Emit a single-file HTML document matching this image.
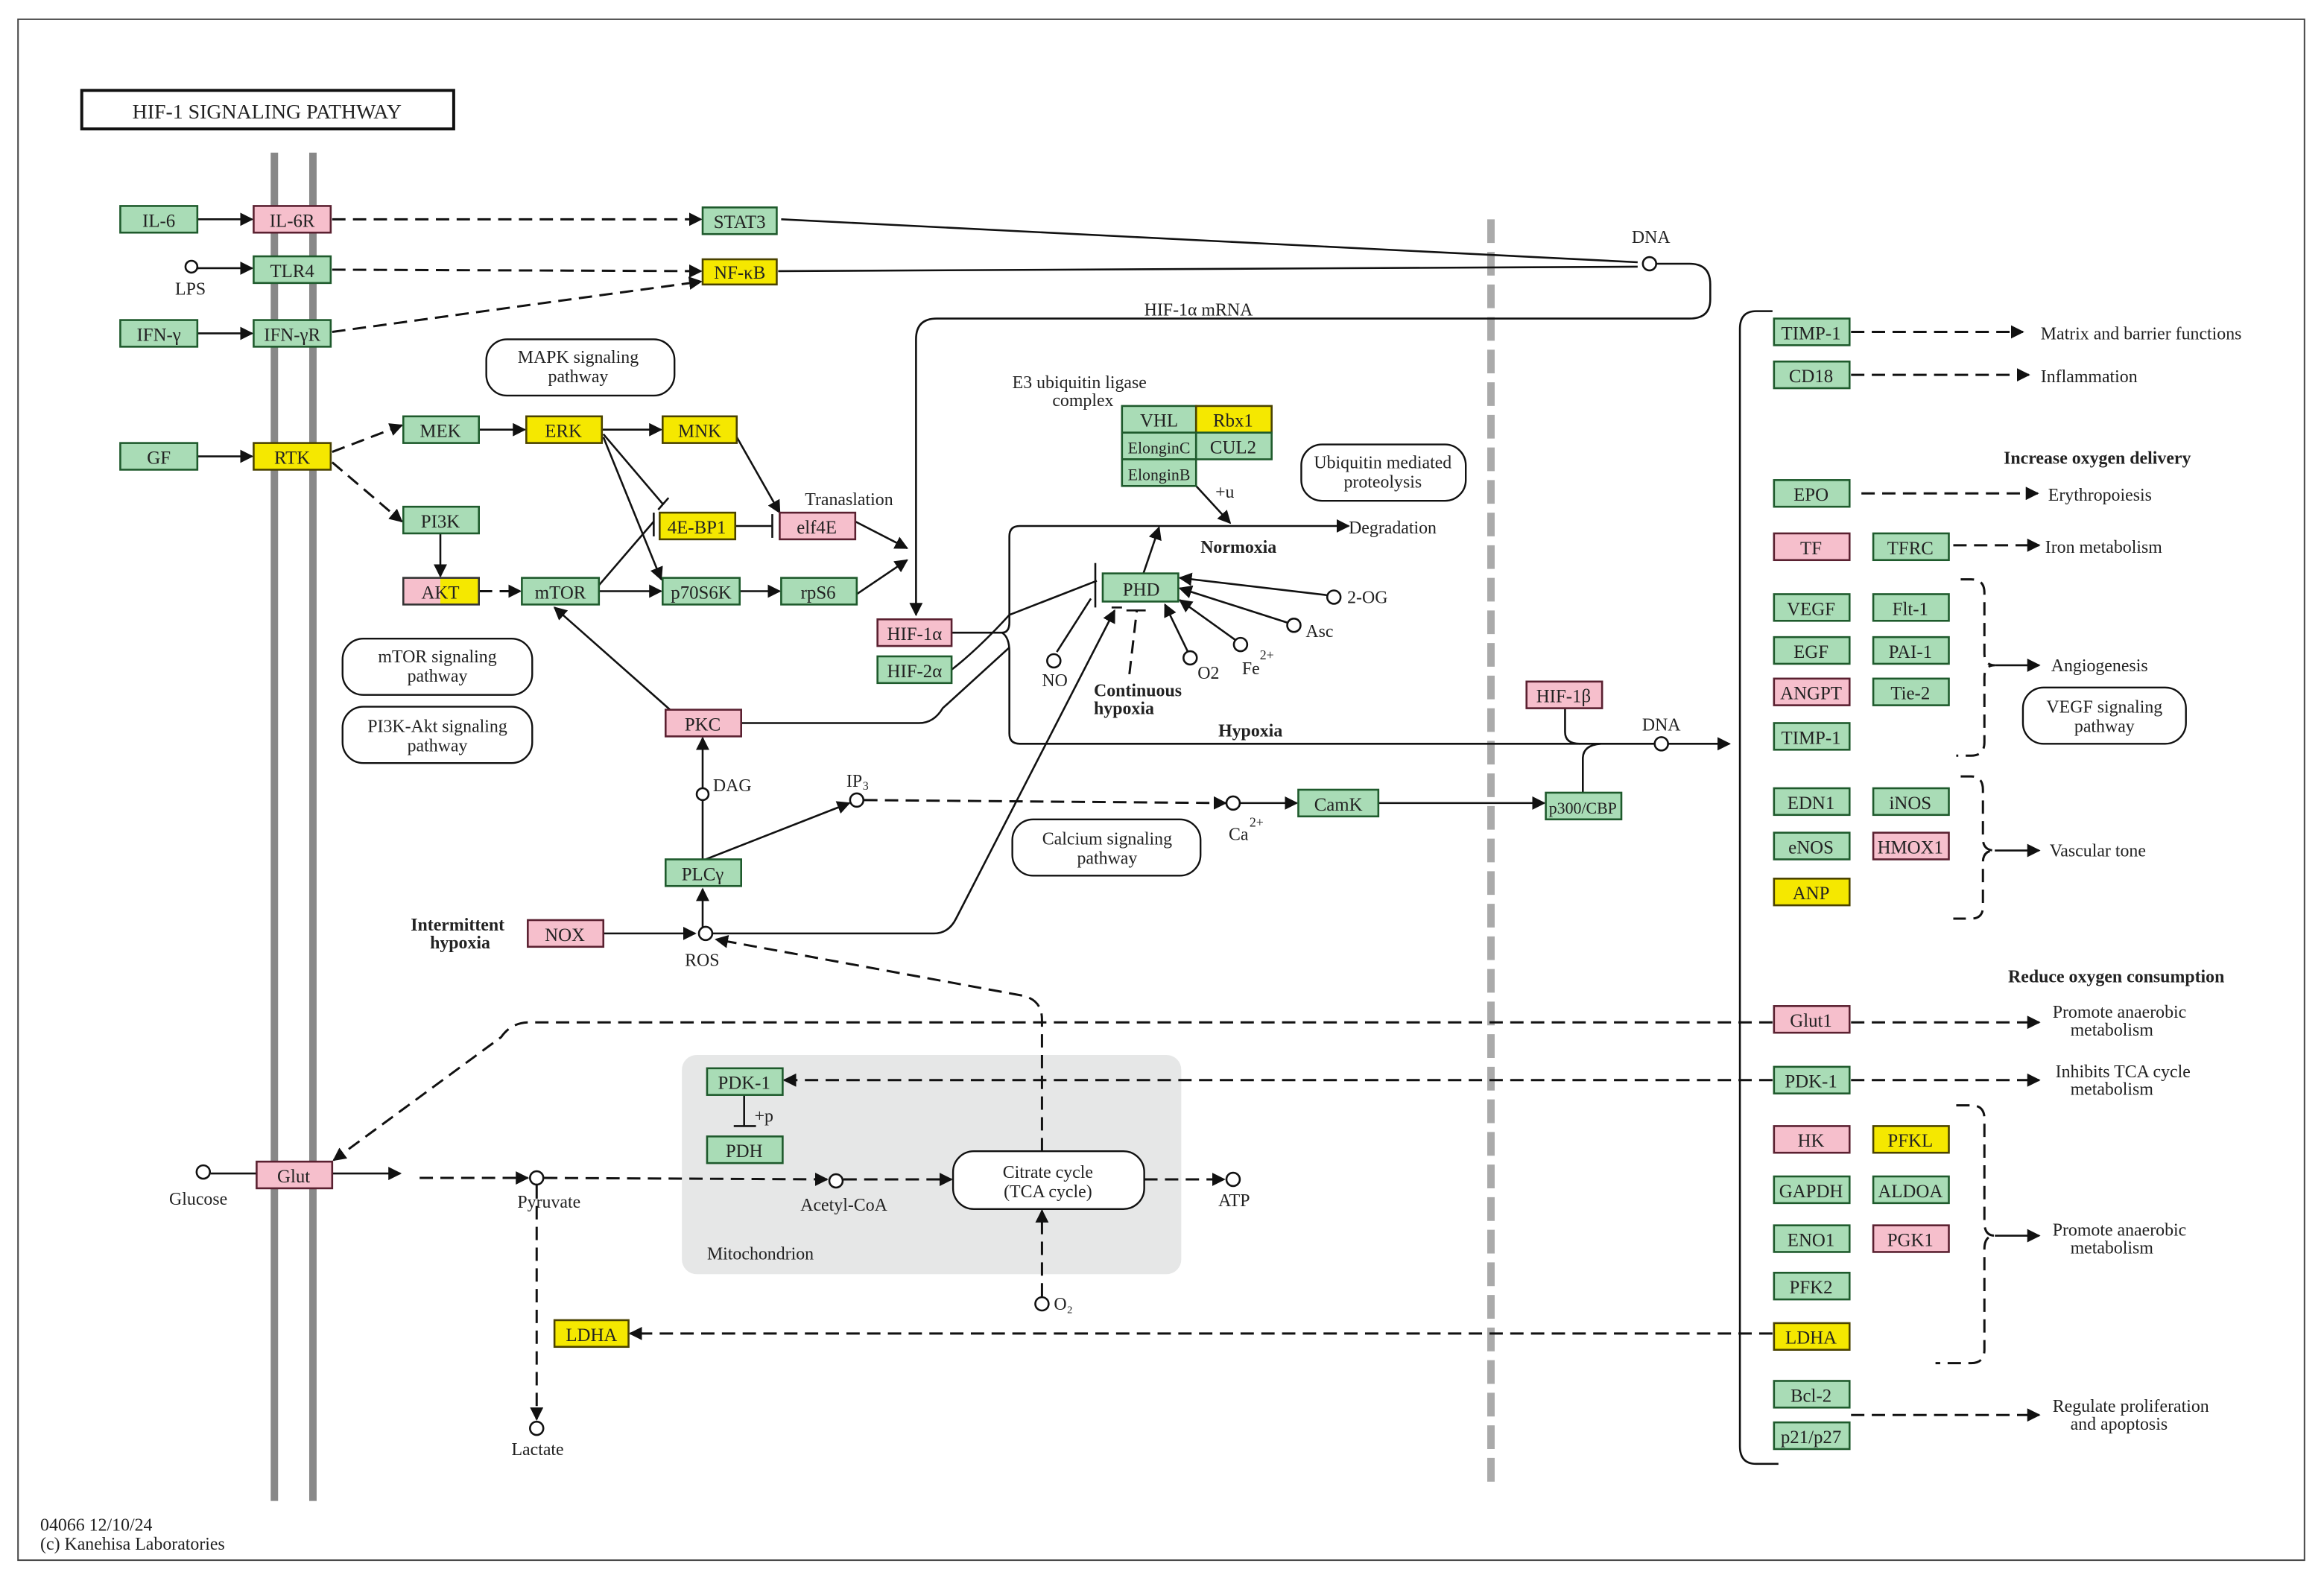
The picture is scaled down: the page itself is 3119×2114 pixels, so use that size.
<!DOCTYPE html>
<html><head><meta charset="utf-8"><style>
html,body{margin:0;padding:0;background:#fff;}
svg{display:block;}
text{font-family:"Liberation Serif",serif;fill:#222;}
.g{fill:#a9dcb6;stroke:#1e5a2c;stroke-width:1.3}
.p{fill:#f6bfcc;stroke:#5a2030;stroke-width:1.3}
.y{fill:#f5e800;stroke:#4a4200;stroke-width:1.3}
.l{stroke:#111;stroke-width:1.3;fill:none}
.d{stroke:#111;stroke-width:1.5;fill:none;stroke-dasharray:9 5}
.c{fill:#fff;stroke:#111;stroke-width:1.3}
.r{fill:#fff;stroke:#111;stroke-width:1.2}
.nt{font-size:12.5px;text-anchor:middle;}
.t{font-size:12px;}
.b{font-size:12px;font-weight:bold;}
</style></head><body>
<svg width="3119" height="2114" viewBox="0 0 1568 1063" xmlns="http://www.w3.org/2000/svg">
<defs>
<marker id="a" viewBox="0 0 10 10" refX="9" refY="5" markerWidth="9" markerHeight="9" markerUnits="userSpaceOnUse" orient="auto"><path d="M0,0L10,5L0,10z" fill="#111"/></marker>
</defs>
<rect x="12" y="13" width="1543" height="1040" fill="none" stroke="#444" stroke-width="1"/>
<rect x="55" y="61" width="251" height="26" fill="#fff" stroke="#111" stroke-width="2"/>
<text x="180" y="80" class="nt" style="font-size:14px">HIF-1  SIGNALING  PATHWAY</text>
<!-- membranes -->
<line x1="185" y1="103" x2="185" y2="1013" stroke="#888" stroke-width="5"/>
<line x1="211" y1="103" x2="211" y2="1013" stroke="#888" stroke-width="5"/>
<line x1="1006" y1="148" x2="1006" y2="1005" stroke="#aaa" stroke-width="5" stroke-dasharray="16 6"/>
<!-- mitochondrion -->
<rect x="460" y="712" width="337" height="148" rx="10" fill="#e6e7e7"/>
<text x="477" y="850" class="t">Mitochondrion</text>
<!-- big right bracket -->
<path class="l" d="M1196,210 H1185 Q1174,210 1174,222 V976 Q1174,988 1185,988 H1200"/>
<!-- pathway boxes -->
<rect class="r" x="328" y="229" width="127" height="38" rx="14"/><text x="390" y="245" class="nt t">MAPK signaling</text><text x="390" y="258" class="nt t">pathway</text>
<rect class="r" x="231" y="431" width="128" height="38" rx="14"/><text x="295" y="447" class="nt t">mTOR signaling</text><text x="295" y="460" class="nt t">pathway</text>
<rect class="r" x="231" y="477" width="128" height="38" rx="14"/><text x="295" y="494" class="nt t">PI3K-Akt signaling</text><text x="295" y="507" class="nt t">pathway</text>
<rect class="r" x="878" y="300" width="111" height="38" rx="14"/><text x="933" y="316" class="nt t">Ubiquitin mediated</text><text x="933" y="329" class="nt t">proteolysis</text>
<rect class="r" x="683" y="553" width="127" height="38" rx="14"/><text x="747" y="570" class="nt t">Calcium signaling</text><text x="747" y="583" class="nt t">pathway</text>
<rect class="r" x="1365" y="464" width="110" height="38" rx="14"/><text x="1420" y="481" class="nt t">VEGF signaling</text><text x="1420" y="494" class="nt t">pathway</text>
<rect class="r" x="643" y="777" width="129" height="39" rx="14"/><text x="707" y="795" class="nt t">Citrate cycle</text><text x="707" y="808" class="nt t">(TCA cycle)</text>
<!-- edges -->
<line class="l" x1="133" y1="148" x2="170" y2="148" marker-end="url(#a)"/>
<line class="d" x1="224" y1="148" x2="473" y2="148" marker-end="url(#a)"/>
<line class="l" x1="133" y1="181" x2="170" y2="181" marker-end="url(#a)" style="display:none"/>
<line class="l" x1="133" y1="181" x2="170" y2="181" marker-end="url(#a)"/>
<line class="d" x1="224" y1="182" x2="473" y2="183" marker-end="url(#a)"/>
<line class="l" x1="133" y1="225" x2="170" y2="225" marker-end="url(#a)"/>
<line class="d" x1="224" y1="224" x2="473" y2="190" marker-end="url(#a)"/>
<line class="l" x1="133" y1="308" x2="170" y2="308" marker-end="url(#a)"/>
<line class="d" x1="224" y1="305" x2="271" y2="287" marker-end="url(#a)"/>
<line class="d" x1="224" y1="312" x2="271" y2="352" marker-end="url(#a)"/>
<line class="l" x1="323" y1="290" x2="354" y2="290" marker-end="url(#a)"/>
<line class="l" x1="406" y1="290" x2="446" y2="290" marker-end="url(#a)"/>
<line class="l" x1="297" y1="360" x2="297" y2="389" marker-end="url(#a)"/>
<line class="d" x1="323" y1="399" x2="351" y2="399" marker-end="url(#a)"/>
<line class="l" x1="404" y1="399" x2="446" y2="399" marker-end="url(#a)"/>
<line class="l" x1="499" y1="399" x2="526" y2="399" marker-end="url(#a)"/>
<line class="l" x1="407" y1="293" x2="447" y2="340"/><line class="l" x1="444" y1="344" x2="451" y2="336"/>
<line class="l" x1="407" y1="295" x2="446" y2="391" marker-end="url(#a)"/>
<line class="l" x1="497" y1="295" x2="526" y2="346" marker-end="url(#a)"/>
<line class="l" x1="404" y1="395" x2="441" y2="352"/><line class="l" x1="441" y1="346" x2="441" y2="362"/>
<line class="l" x1="496" y1="355" x2="521" y2="355"/><line class="l" x1="521" y1="347" x2="521" y2="363"/>
<line class="l" x1="577" y1="352" x2="612" y2="370" marker-end="url(#a)"/>
<line class="l" x1="578" y1="401" x2="612" y2="378" marker-end="url(#a)"/>
<text x="543" y="341" class="t">Tranaslation</text>
<!-- HIF-1a mRNA loop -->
<path class="l" d="M527,148 L1105,177" />
<path class="l" d="M525,183 L1105,180"/>
<circle class="c" cx="1113" cy="178" r="4.5"/>
<text x="1101" y="164" class="t">DNA</text>
<path class="l" d="M1118,178 H1140 Q1154,178 1154,192 V202 Q1154,215 1140,215 H632 Q618,215 618,229 V415" marker-end="url(#a)"/>
<text x="772" y="213" class="t">HIF-1α mRNA</text>
<!-- HIF to degradation / hypoxia -->
<path class="l" d="M642,427 H676 Q681,427 681,420 V362 Q681,355 688,355 H910" marker-end="url(#a)"/>
<path class="l" d="M676,427 Q681,430 681,440 V495 Q681,502 688,502 H1167" marker-end="url(#a)"/>
<path class="l" d="M642,452 Q660,438 681,415 L740,392"/>
<line class="l" x1="739" y1="380" x2="739" y2="410"/>
<text x="910" y="360" class="t">Degradation</text>
<text x="810" y="373" class="b">Normoxia</text>
<text x="822" y="497" class="b">Hypoxia</text>
<line class="l" x1="807" y1="328" x2="830" y2="353" marker-end="url(#a)"/>
<text x="820" y="336" class="t">+u</text>
<text x="683" y="262" class="t">E3 ubiquitin ligase</text><text x="710" y="274" class="t">complex</text>
<line class="l" x1="765" y1="406" x2="782" y2="356" marker-end="url(#a)"/>
<line class="l" x1="898" y1="402" x2="796" y2="390" marker-end="url(#a)"/>
<line class="l" x1="871" y1="421" x2="796" y2="397" marker-end="url(#a)"/>
<line class="l" x1="835" y1="433" x2="796" y2="405" marker-end="url(#a)"/>
<line class="l" x1="802" y1="441" x2="786" y2="408" marker-end="url(#a)"/>
<line class="l" x1="713" y1="440" x2="736" y2="404"/>
<line class="d" x1="762" y1="455" x2="767" y2="412"/><line class="l" x1="760" y1="412" x2="773" y2="412"/>
<line class="l" x1="750" y1="410" x2="757" y2="410"/>
<circle class="c" cx="900" cy="403" r="4.5"/><text x="909" y="407" class="t">2-OG</text>
<circle class="c" cx="873" cy="422" r="4.5"/><text x="881" y="430" class="t">Asc</text>
<circle class="c" cx="837" cy="435" r="4.5"/><text x="838" y="455" class="t">Fe</text><text x="850" y="445" style="font-size:9px" class="t">2+</text>
<circle class="c" cx="803" cy="444" r="4.5"/><text x="808" y="458" class="t">O2</text>
<circle class="c" cx="711" cy="446" r="4.5"/><text x="703" y="463" class="t">NO</text>
<text x="738" y="470" class="b">Continuous</text><text x="738" y="482" class="b">hypoxia</text>
<!-- PKC etc -->
<line class="l" x1="452" y1="479" x2="374" y2="410" marker-end="url(#a)"/>
<path class="l" d="M500,488 H620 Q630,488 636,478 L681,437"/>
<line class="l" x1="474" y1="534" x2="474" y2="498" marker-end="url(#a)"/>
<circle class="c" cx="474" cy="536" r="4"/><text x="481" y="534" class="t">DAG</text>
<line class="l" x1="474" y1="580" x2="474" y2="540"/>
<line class="l" x1="476" y1="580" x2="573" y2="542" marker-end="url(#a)"/>
<circle class="c" cx="578" cy="540" r="4.5"/><text x="571" y="531" class="t">IP</text><text x="582" y="533" style="font-size:8px" class="t">3</text>
<line class="d" x1="583" y1="540" x2="827" y2="542" marker-end="url(#a)"/>
<circle class="c" cx="832" cy="542" r="4.5"/><text x="829" y="567" class="t">Ca</text><text x="843" y="558" style="font-size:9px" class="t">2+</text>
<line class="l" x1="837" y1="542" x2="875" y2="542" marker-end="url(#a)"/>
<line class="l" x1="930" y1="542" x2="1042" y2="542" marker-end="url(#a)"/>
<path class="l" d="M1068,535 V512 Q1068,503 1080,502" />
<path class="l" d="M1056,478 V494 Q1056,502 1066,502"/>
<circle class="c" cx="1121" cy="502" r="4.5"/><text x="1108" y="493" class="t">DNA</text>
<line class="l" x1="474" y1="628" x2="474" y2="600" marker-end="url(#a)"/>
<line class="l" x1="407" y1="630" x2="469" y2="630" marker-end="url(#a)"/>
<circle class="c" cx="476" cy="630" r="4.5"/><text x="462" y="652" class="t">ROS</text>
<path class="l" d="M481,630 H630 Q640,630 645,620 L752,412" marker-end="url(#a)"/>
<path class="d" d="M703,777 V688 Q703,675 690,672 L483,634" marker-end="url(#a)"/>
<text x="277" y="628" class="b">Intermittent</text><text x="290" y="640" class="b">hypoxia</text>
<!-- glucose -->
<circle class="c" cx="137" cy="791" r="4.5"/><text x="114" y="813" class="t">Glucose</text>
<line class="l" x1="142" y1="792" x2="173" y2="792"/>
<line class="l" x1="224" y1="792" x2="270" y2="792" marker-end="url(#a)"/>
<line class="d" x1="283" y1="795" x2="356" y2="795" marker-end="url(#a)"/>
<circle class="c" cx="362" cy="795" r="4.5"/><text x="349" y="815" class="t">Pyruvate</text>
<line class="d" x1="367" y1="795" x2="558" y2="796" marker-end="url(#a)"/>
<circle class="c" cx="564" cy="797" r="4.5"/><text x="540" y="817" class="t">Acetyl-CoA</text>
<line class="d" x1="569" y1="796" x2="642" y2="796" marker-end="url(#a)"/>
<line class="d" x1="772" y1="796" x2="826" y2="796" marker-end="url(#a)"/>
<circle class="c" cx="832" cy="796" r="4.5"/><text x="822" y="814" class="t">ATP</text>
<line class="d" x1="703" y1="875" x2="703" y2="817" marker-end="url(#a)"/>
<circle class="c" cx="703" cy="880" r="4.5"/><text x="711" y="884" class="t">O₂</text>
<line class="d" x1="362" y1="800" x2="362" y2="958" marker-end="url(#a)"/>
<circle class="c" cx="362" cy="964" r="4.5"/><text x="345" y="982" class="t">Lactate</text>
<path class="d" d="M1196,690 H357 Q345,690 338,700 L225,783" marker-end="url(#a)"/>
<line class="d" x1="1196" y1="729" x2="529" y2="729" marker-end="url(#a)"/>
<line class="l" x1="502" y1="739" x2="502" y2="760"/><line class="l" x1="495" y1="760" x2="510" y2="760"/>
<text x="509" y="757" class="t">+p</text>
<line class="d" x1="1196" y1="900" x2="425" y2="900" marker-end="url(#a)"/>
<!-- right outputs -->
<line class="d" x1="1249" y1="224" x2="1365" y2="224" marker-end="url(#a)"/><text x="1377" y="229" class="t">Matrix and barrier functions</text>
<line class="d" x1="1249" y1="253" x2="1369" y2="253" marker-end="url(#a)"/><text x="1377" y="258" class="t">Inflammation</text>
<text x="1352" y="313" class="b">Increase oxygen delivery</text>
<line class="d" x1="1256" y1="333" x2="1375" y2="333" marker-end="url(#a)"/><text x="1382" y="338" class="t">Erythropoiesis</text>
<line class="d" x1="1318" y1="368" x2="1376" y2="368" marker-end="url(#a)"/><text x="1380" y="373" class="t">Iron metabolism</text>
<path class="d" d="M1323,391 H1330 Q1339,391 1339,400 V441 Q1339,449 1346,449 Q1339,449 1339,457 V501 Q1339,510 1330,510 H1320"/>
<line class="l" x1="1346" y1="449" x2="1376" y2="449" marker-end="url(#a)"/><text x="1384" y="453" class="t">Angiogenesis</text>
<path class="d" d="M1323,524 H1330 Q1338,524 1338,533 V566 Q1338,574 1346,574 Q1338,574 1338,582 V612 Q1338,620 1330,620 H1318"/>
<line class="l" x1="1346" y1="574" x2="1376" y2="574" marker-end="url(#a)"/><text x="1383" y="578" class="t">Vascular tone</text>
<text x="1355" y="663" class="b">Reduce oxygen consumption</text>
<line class="d" x1="1249" y1="690" x2="1376" y2="690" marker-end="url(#a)"/><text x="1385" y="687" class="t">Promote anaerobic</text><text x="1397" y="699" class="t">metabolism</text>
<line class="d" x1="1249" y1="729" x2="1376" y2="729" marker-end="url(#a)"/><text x="1387" y="727" class="t">Inhibits TCA cycle</text><text x="1397" y="739" class="t">metabolism</text>
<path class="d" d="M1320,746 H1330 Q1339,746 1339,755 V825 Q1339,834 1346,834 Q1339,834 1339,843 V911 Q1339,920 1330,920 H1306"/>
<line class="l" x1="1346" y1="834" x2="1376" y2="834" marker-end="url(#a)"/><text x="1385" y="834" class="t">Promote anaerobic</text><text x="1397" y="846" class="t">metabolism</text>
<line class="d" x1="1249" y1="955" x2="1376" y2="955" marker-end="url(#a)"/><text x="1385" y="953" class="t">Regulate proliferation</text><text x="1397" y="965" class="t">and apoptosis</text>
<text x="27" y="1033" class="t">04066 12/10/24</text><text x="27" y="1046" class="t">(c) Kanehisa Laboratories</text>
<!-- nodes -->
<g>
<rect class="g" x="81" y="139" width="52" height="18"/><text x="107" y="153" class="nt">IL-6</text>
<rect class="p" x="171" y="139" width="52" height="18"/><text x="197" y="153" class="nt">IL-6R</text>
<rect class="g" x="474" y="140" width="50" height="18"/><text x="499" y="154" class="nt">STAT3</text>
<circle class="c" cx="129" cy="180" r="4"/><text x="118" y="199" class="t">LPS</text><line class="l" x1="133" y1="181" x2="134" y2="181"/>
<rect class="g" x="171" y="173" width="52" height="18"/><text x="197" y="187" class="nt">TLR4</text>
<rect class="y" x="474" y="175" width="50" height="17"/><text x="499" y="188" class="nt">NF-κB</text>
<rect class="g" x="81" y="216" width="52" height="18"/><text x="107" y="230" class="nt">IFN-γ</text>
<rect class="g" x="171" y="216" width="52" height="18"/><text x="197" y="230" class="nt">IFN-γR</text>
<rect class="g" x="81" y="299" width="52" height="18"/><text x="107" y="313" class="nt">GF</text>
<rect class="y" x="171" y="299" width="52" height="18"/><text x="197" y="313" class="nt">RTK</text>
<rect class="g" x="272" y="281" width="51" height="18"/><text x="297" y="295" class="nt">MEK</text>
<rect class="y" x="355" y="281" width="51" height="18"/><text x="380" y="295" class="nt">ERK</text>
<rect class="y" x="447" y="281" width="50" height="18"/><text x="472" y="295" class="nt">MNK</text>
<rect class="g" x="272" y="342" width="51" height="18"/><text x="297" y="356" class="nt">PI3K</text>
<rect class="p" x="272" y="390" width="25" height="18" style="stroke:none"/><rect x="297" y="390" width="26" height="18" fill="#f5e800"/><rect x="272" y="390" width="51" height="18" fill="none" stroke="#333" stroke-width="1.3"/><text x="297" y="404" class="nt">AKT</text>
<rect class="g" x="352" y="390" width="52" height="18"/><text x="378" y="404" class="nt">mTOR</text>
<rect class="g" x="447" y="390" width="52" height="18"/><text x="473" y="404" class="nt">p70S6K</text>
<rect class="g" x="527" y="390" width="51" height="18"/><text x="552" y="404" class="nt">rpS6</text>
<rect class="y" x="445" y="346" width="51" height="18"/><text x="470" y="360" class="nt">4E-BP1</text>
<rect class="p" x="526" y="346" width="51" height="18"/><text x="551" y="360" class="nt">elf4E</text>
<rect class="p" x="592" y="418" width="50" height="18"/><text x="617" y="432" class="nt">HIF-1α</text>
<rect class="g" x="592" y="443" width="50" height="18"/><text x="617" y="457" class="nt">HIF-2α</text>
<rect class="g" x="757" y="274" width="50" height="18"/><text x="782" y="288" class="nt">VHL</text>
<rect class="y" x="807" y="274" width="51" height="18"/><text x="832" y="288" class="nt">Rbx1</text>
<rect class="g" x="757" y="292" width="50" height="18"/><text x="782" y="306" class="nt" style="font-size:11px">ElonginC</text>
<rect class="g" x="807" y="292" width="51" height="18"/><text x="832" y="306" class="nt">CUL2</text>
<rect class="g" x="757" y="310" width="50" height="18"/><text x="782" y="324" class="nt" style="font-size:11px">ElonginB</text>
<rect class="g" x="744" y="387" width="51" height="19"/><text x="770" y="402" class="nt">PHD</text>
<rect class="p" x="449" y="479" width="51" height="18"/><text x="474" y="493" class="nt">PKC</text>
<rect class="g" x="449" y="580" width="51" height="18"/><text x="474" y="594" class="nt">PLCγ</text>
<rect class="p" x="356" y="621" width="51" height="18"/><text x="381" y="635" class="nt">NOX</text>
<rect class="g" x="876" y="533" width="54" height="18"/><text x="903" y="547" class="nt">CamK</text>
<rect class="g" x="1043" y="535" width="51" height="18"/><text x="1068" y="549" class="nt" style="font-size:11px">p300/CBP</text>
<rect class="p" x="1030" y="460" width="51" height="18"/><text x="1055" y="474" class="nt">HIF-1β</text>
<rect class="g" x="477" y="721" width="51" height="18"/><text x="502" y="735" class="nt">PDK-1</text>
<rect class="g" x="477" y="767" width="51" height="18"/><text x="502" y="781" class="nt">PDH</text>
<rect class="p" x="173" y="784" width="51" height="18"/><text x="198" y="798" class="nt">Glut</text>
<rect class="y" x="374" y="891" width="50" height="18"/><text x="399" y="905" class="nt">LDHA</text>
</g>
<g>
<rect class="g" x="1197" y="215" width="51" height="18"/><text x="1222" y="229" class="nt">TIMP-1</text>
<rect class="g" x="1197" y="244" width="51" height="18"/><text x="1222" y="258" class="nt">CD18</text>
<rect class="g" x="1197" y="324" width="51" height="18"/><text x="1222" y="338" class="nt">EPO</text>
<rect class="p" x="1197" y="360" width="51" height="18"/><text x="1222" y="374" class="nt">TF</text>
<rect class="g" x="1264" y="360" width="51" height="18"/><text x="1289" y="374" class="nt">TFRC</text>
<rect class="g" x="1197" y="401" width="51" height="18"/><text x="1222" y="415" class="nt">VEGF</text>
<rect class="g" x="1264" y="401" width="51" height="18"/><text x="1289" y="415" class="nt">Flt-1</text>
<rect class="g" x="1197" y="430" width="51" height="18"/><text x="1222" y="444" class="nt">EGF</text>
<rect class="g" x="1264" y="430" width="51" height="18"/><text x="1289" y="444" class="nt">PAI-1</text>
<rect class="p" x="1197" y="458" width="51" height="18"/><text x="1222" y="472" class="nt">ANGPT</text>
<rect class="g" x="1264" y="458" width="51" height="18"/><text x="1289" y="472" class="nt">Tie-2</text>
<rect class="g" x="1197" y="488" width="51" height="18"/><text x="1222" y="502" class="nt">TIMP-1</text>
<rect class="g" x="1197" y="532" width="51" height="18"/><text x="1222" y="546" class="nt">EDN1</text>
<rect class="g" x="1264" y="532" width="51" height="18"/><text x="1289" y="546" class="nt">iNOS</text>
<rect class="g" x="1197" y="562" width="51" height="18"/><text x="1222" y="576" class="nt">eNOS</text>
<rect class="p" x="1264" y="562" width="51" height="18"/><text x="1289" y="576" class="nt">HMOX1</text>
<rect class="y" x="1197" y="593" width="51" height="18"/><text x="1222" y="607" class="nt">ANP</text>
<rect class="p" x="1197" y="679" width="51" height="18"/><text x="1222" y="693" class="nt">Glut1</text>
<rect class="g" x="1197" y="720" width="51" height="18"/><text x="1222" y="734" class="nt">PDK-1</text>
<rect class="p" x="1197" y="760" width="51" height="18"/><text x="1222" y="774" class="nt">HK</text>
<rect class="y" x="1264" y="760" width="51" height="18"/><text x="1289" y="774" class="nt">PFKL</text>
<rect class="g" x="1197" y="794" width="51" height="18"/><text x="1222" y="808" class="nt">GAPDH</text>
<rect class="g" x="1264" y="794" width="51" height="18"/><text x="1289" y="808" class="nt">ALDOA</text>
<rect class="g" x="1197" y="827" width="51" height="18"/><text x="1222" y="841" class="nt">ENO1</text>
<rect class="p" x="1264" y="827" width="51" height="18"/><text x="1289" y="841" class="nt">PGK1</text>
<rect class="g" x="1197" y="859" width="51" height="18"/><text x="1222" y="873" class="nt">PFK2</text>
<rect class="y" x="1197" y="893" width="51" height="18"/><text x="1222" y="907" class="nt">LDHA</text>
<rect class="g" x="1197" y="932" width="51" height="18"/><text x="1222" y="946" class="nt">Bcl-2</text>
<rect class="g" x="1197" y="960" width="51" height="18"/><text x="1222" y="974" class="nt">p21/p27</text>
</g>
</svg>
</body></html>
